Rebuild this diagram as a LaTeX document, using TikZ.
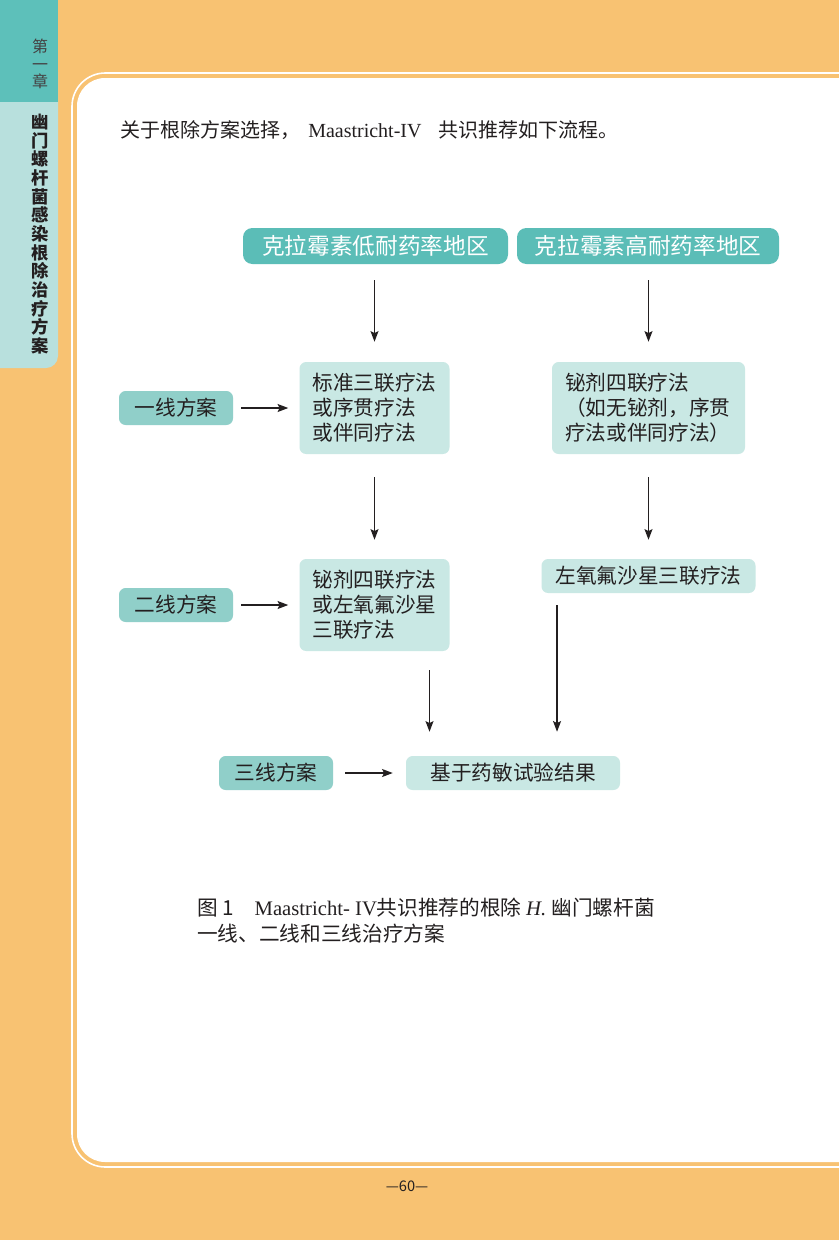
\documentclass[tikz,border=0pt]{standalone}
\usepackage{fontspec}
\setmainfont{Liberation Serif}
\newfontfamily\cjk{Noto Sans CJK SC}
\usetikzlibrary{arrows.meta}

\definecolor{pageorange}{HTML}{F8C272}
\definecolor{tabdark}{HTML}{5DC0BA}
\definecolor{tablight}{HTML}{B8E0DD}
\definecolor{regionfill}{HTML}{5BBDB7}
\definecolor{linefill}{HTML}{90CFC9}
\definecolor{therapyfill}{HTML}{C9E8E4}
\definecolor{inkdark}{HTML}{231F20}

\begin{document}
\begin{tikzpicture}[x=0.75pt, y=-0.75pt,
		region/.style = {fill=regionfill, rounded corners=7pt, text=white, inner sep=0pt,
			minimum height=27pt, font=\cjk\fontsize{17}{20}\selectfont},
		linebox/.style = {fill=linefill, rounded corners=5pt, text=inkdark, inner sep=0pt,
			minimum width=85.5pt, minimum height=25.5pt, font=\cjk\fontsize{15.5}{18}\selectfont},
		therapy/.style = {fill=therapyfill, rounded corners=5pt, text=inkdark, inner xsep=9.75pt,
			minimum height=69pt, align=left, font=\cjk\fontsize{15.5}{18.75}\selectfont},
		result/.style = {fill=therapyfill, rounded corners=5pt, text=inkdark, inner sep=0pt,
			minimum width=160.5pt, minimum height=25.5pt, font=\cjk\fontsize{15.5}{18}\selectfont},
		arr/.style = {-{Stealth[length=8pt, width=6pt, inset=1.5pt]}, line width=0.9pt, inkdark}]
		\useasboundingbox (0,0) rectangle (839,1240);
		\clip (0,0) rectangle (839,1240);

		\fill[pageorange] (0,0) rectangle (839,1240);
		\draw[white, line width=1.2pt, rounded corners=25pt] (72,73) rectangle (900,1167);
		\fill[white, rounded corners=21pt] (77,78) rectangle (900,1162);

		\fill[tablight, rounded corners=9pt] (-30,60) rectangle (58,368);
		\fill[tabdark] (0,0) rectangle (58,102);
		\draw (40,64) node[align=center, text=inkdark!85, font=\cjk\fontsize{12}{13}\selectfont] (chapter) {第\\一\\章};
		\draw (40,234) node[align=center, text=inkdark, font=\cjk\bfseries\fontsize{13}{14}\selectfont] (tabtitle)
			{幽\\门\\螺\\杆\\菌\\感\\染\\根\\除\\治\\疗\\方\\案};

		\draw (120,130) node[right, inner sep=0pt, text=inkdark, font=\fontsize{15}{17}\selectfont] (intro)
			{{\cjk 关于根除方案选择，}\hspace{6pt}Maastricht-IV\hspace{13pt}{\cjk 共识推荐如下流程。}};

		\draw (375.5,246) node[region, minimum width=198.75pt] (lowreg) {克拉霉素低耐药率地区};
		\draw (648,246) node[region, minimum width=196.5pt] (highreg) {克拉霉素高耐药率地区};

		\draw (176,408) node[linebox] (first) {一线方案};
		\draw (374.5,408) node[therapy, text width=93pt] (std) {标准三联疗法\\或序贯疗法\\或伴同疗法};
		\draw (648.5,408) node[therapy, text width=125.25pt] (bis) {铋剂四联疗法\\（如无铋剂，序贯\\疗法或伴同疗法）};

		\draw (176,605) node[linebox] (second) {二线方案};
		\draw (374.5,605) node[therapy, text width=93pt] (bis2) {铋剂四联疗法\\或左氧氟沙星\\三联疗法};
		\draw (648.5,576) node[result] (levo) {左氧氟沙星三联疗法};

		\draw (276,773) node[linebox] (third) {三线方案};
		\draw (513,773) node[result] (suscept) {基于药敏试验结果};

		\coordinate (fromstd) at ([xshift=41.25pt]bis2.south);
		\coordinate (fromlevo) at ([xshift=-68.6pt]levo.south);

		\draw[arr, shorten <=12pt, shorten >=15pt] (std.north |- lowreg.south) -- (std.north);
		\draw[arr, shorten <=12pt, shorten >=15pt] (bis.north |- highreg.south) -- (bis.north);
		\draw[arr, shorten <=17.25pt, shorten >=14.25pt] (std.south) -- (bis2.north);
		\draw[arr, shorten <=17.25pt, shorten >=14.25pt] (bis.south) -- (levo.north);
		\draw[arr, shorten <=6pt, shorten >=8.25pt] (first.east) -- (std.west);
		\draw[arr, shorten <=6pt, shorten >=8.25pt] (second.east) -- (bis2.west);
		\draw[arr, shorten <=9pt, shorten >=9.75pt] (third.east) -- (suscept.west);
		\draw[arr, shorten <=14.25pt, shorten >=18pt] (fromstd) -- (fromstd |- suscept.north);
		\draw[arr, shorten <=9pt, shorten >=18pt] (fromlevo) -- (fromlevo |- suscept.north);

		\draw (197,921) node[right, align=left, inner sep=0pt, text=inkdark, font=\fontsize{15.5}{19.5}\selectfont] (caption)
			{{\cjk 图 1}\quad Maastricht- IV{\cjk 共识推荐的根除 }\textit{H.} {\cjk 幽门螺杆菌}\\{\cjk 一线、二线和三线治疗方案}};

		\draw (407,1186) node[text=inkdark, font=\cjk\fontsize{11}{12}\selectfont] (pageno) {—60—};
	\end{tikzpicture}
\end{document}
